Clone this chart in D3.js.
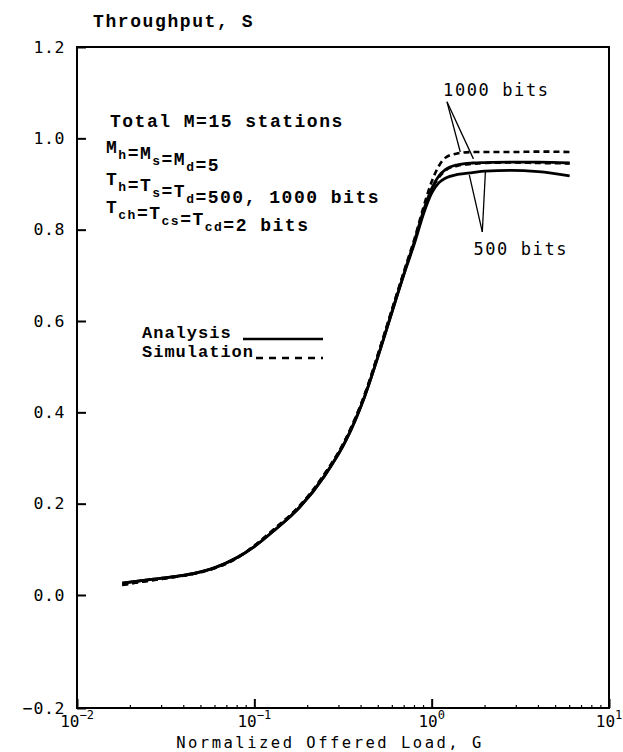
<!DOCTYPE html>
<html><head><meta charset="utf-8">
<script src="https://cdn.jsdelivr.net/npm/d3@7"></script>
<style>
body{margin:0;background:#fff;}
svg{display:block;}
</style></head>
<body>
<svg id="chart" width="623" height="752"></svg>
<script>
// ---- data ----
const G        = [0.018,0.025,0.035,0.045,0.06,0.08,0.1,0.13,0.18,0.25,0.33,0.42,0.52,0.62,0.72,0.8,0.9,1.0,1.1,1.2,1.4,1.7,2.0,2.8,4.0,6.0];
const ana500   = [0.026,0.033,0.040,0.047,0.060,0.082,0.106,0.142,0.192,0.262,0.340,0.436,0.545,0.640,0.718,0.770,0.835,0.880,0.903,0.913,0.921,0.925,0.928,0.930,0.927,0.918];
const ana1000  = [0.026,0.033,0.040,0.047,0.060,0.082,0.106,0.142,0.192,0.262,0.340,0.436,0.545,0.640,0.720,0.775,0.842,0.890,0.918,0.932,0.942,0.946,0.947,0.948,0.948,0.946];
const sim500   = [0.022,0.031,0.039,0.046,0.059,0.081,0.108,0.145,0.195,0.266,0.344,0.440,0.550,0.645,0.722,0.775,0.840,0.888,0.915,0.930,0.940,0.944,0.946,0.947,0.946,0.945];
const sim1000  = [0.022,0.031,0.039,0.046,0.059,0.081,0.108,0.145,0.195,0.266,0.344,0.440,0.550,0.645,0.725,0.780,0.850,0.905,0.940,0.958,0.967,0.970,0.970,0.970,0.971,0.970];
const yTicks   = [-0.2,0.0,0.2,0.4,0.6,0.8,1.0,1.2];
const xTickExp = [-2,-1,0,1];
const yTitle   = "Throughput, S";
const xTitle   = "Normalized Offered Load,  G";
const legendLabels = ["Analysis","Simulation"];

(function(){
const svg = d3.select("#chart");
const L = 77, R = 609, T = 47;
const x = d3.scaleLog().domain([0.01,10]).range([L,R]);
const y = d3.scaleLinear().domain([-0.2,0,1.2]).range([708,595,T]);

const tickFont = "'DejaVu Sans Mono', monospace";
const typeFont = "'Liberation Mono', 'Courier New', monospace";

// frame
svg.append("rect").attr("x",L).attr("y",T).attr("width",R-L).attr("height",y(-0.2)-T)
  .attr("fill","none").attr("stroke","#000").attr("stroke-width",2);

// y axis
const yAxis = svg.append("g").attr("transform",`translate(${L},0)`)
  .call(d3.axisLeft(y).tickValues(yTicks).tickSize(-9).tickPadding(12).tickFormat(d3.format(".1f")));
yAxis.select(".domain").remove();
yAxis.selectAll("line").attr("stroke","#000").attr("stroke-width",2);
yAxis.selectAll("text").attr("font-family",tickFont).attr("font-size",16.5).attr("letter-spacing",0.6).attr("fill","#000");

// x axis major + minor ticks
const minor = [];
for (let e=-2;e<1;e++) for (let m=2;m<=9;m++) minor.push(m*Math.pow(10,e));
const xAxis = svg.append("g").attr("transform",`translate(0,${y(-0.2)})`)
  .call(d3.axisBottom(x).tickValues(xTickExp.map(e=>Math.pow(10,e))).tickSize(-9).tickFormat(""));
xAxis.select(".domain").remove();
xAxis.selectAll("line").attr("stroke","#000").attr("stroke-width",2);
svg.append("g").selectAll("line").data(minor).join("line")
  .attr("x1",d=>x(d)).attr("x2",d=>x(d)).attr("y1",y(-0.2)).attr("y2",y(-0.2)-3)
  .attr("stroke","#000").attr("stroke-width",1.2);

// x tick labels 10^e
const xl = svg.append("g").selectAll("text").data(xTickExp).join("text")
  .attr("x",d=>x(Math.pow(10,d))).attr("y",727).attr("text-anchor","middle")
  .attr("font-family",tickFont).attr("font-size",16).attr("fill","#000");
xl.append("tspan").text("10");
xl.append("tspan").attr("dy",-8).attr("font-size",12).text(d=>d<0?"\u2212"+Math.abs(d):String(d));

// axis titles
svg.append("text").attr("x",93).attr("y",27).attr("font-family",typeFont).attr("font-weight","bold")
  .attr("font-size",18).attr("letter-spacing",1.6).text(yTitle);
svg.append("text").attr("x",330).attr("y",748).attr("text-anchor","middle").attr("font-family",tickFont)
  .attr("font-size",15.5).attr("letter-spacing",2.5).text(xTitle);

// curves
const line = d3.line().x(d=>x(d[0])).y(d=>y(d[1])).curve(d3.curveMonotoneX);
const series = [
  {v:ana500, dash:null},
  {v:ana1000, dash:null},
  {v:sim500, dash:"6,4"},
  {v:sim1000, dash:"6,4"}
];
svg.append("g").selectAll("path").data(series).join("path")
  .attr("d",s=>line(G.map((g,i)=>[g,s.v[i]])))
  .attr("fill","none").attr("stroke","#000")
  .attr("stroke-width",d=>d.dash?2.6:2.8)
  .attr("stroke-dasharray",d=>d.dash);

// annotation block
const ann = svg.append("g").attr("font-family",typeFont).attr("font-weight","bold").attr("font-size",18).attr("letter-spacing",1.5).attr("fill","#000");
ann.append("text").attr("x",110).attr("y",127).text("Total M=15 stations");
function subLine(yy, parts){
  const t = ann.append("text").attr("x",106).attr("y",yy);
  parts.forEach(p=>{
    if (p.sub) { t.append("tspan").attr("dy",6).attr("font-size",13).text(p.sub); t.append("tspan").attr("dy",-6).text(""); }
    else t.append("tspan").text(p.t);
  });
}
subLine(153,[{t:"M"},{sub:"h"},{t:"=M"},{sub:"s"},{t:"=M"},{sub:"d"},{t:"=5"}]);
subLine(185,[{t:"T"},{sub:"h"},{t:"=T"},{sub:"s"},{t:"=T"},{sub:"d"},{t:"=500, 1000 bits"}]);
subLine(213,[{t:"T"},{sub:"ch"},{t:"=T"},{sub:"cs"},{t:"=T"},{sub:"cd"},{t:"=2 bits"}]);

// legend
const lg = svg.append("g").attr("font-family",typeFont).attr("font-weight","bold").attr("font-size",17).attr("letter-spacing",1.0);
lg.append("text").attr("x",142).attr("y",338).text(legendLabels[0]);
lg.append("text").attr("x",142).attr("y",357).text(legendLabels[1]);
lg.append("line").attr("x1",243).attr("x2",323).attr("y1",339).attr("y2",339).attr("stroke","#000").attr("stroke-width",2.4);
lg.append("line").attr("x1",256).attr("x2",323).attr("y1",358).attr("y2",358).attr("stroke","#000").attr("stroke-width",2.4).attr("stroke-dasharray","7,6");

// labels with leader lines
const lab = svg.append("g").attr("font-family",tickFont).attr("font-size",17).attr("letter-spacing",1.6);
lab.append("text").attr("x",x(1.16)).attr("y",y(1.092)).text("1000 bits");
lab.append("text").attr("x",x(1.72)).attr("y",y(0.744)).text("500 bits");
const leaders = [
  [[1.22,1.080],[1.45,0.970]],
  [[1.22,1.080],[1.72,0.955]],
  [[1.93,0.795],[1.63,0.920]],
  [[1.93,0.795],[2.01,0.928]]
];
svg.append("g").selectAll("line").data(leaders).join("line")
  .attr("x1",d=>x(d[0][0])).attr("y1",d=>y(d[0][1])).attr("x2",d=>x(d[1][0])).attr("y2",d=>y(d[1][1]))
  .attr("stroke","#000").attr("stroke-width",1.3);
})();
</script>
</body></html>
